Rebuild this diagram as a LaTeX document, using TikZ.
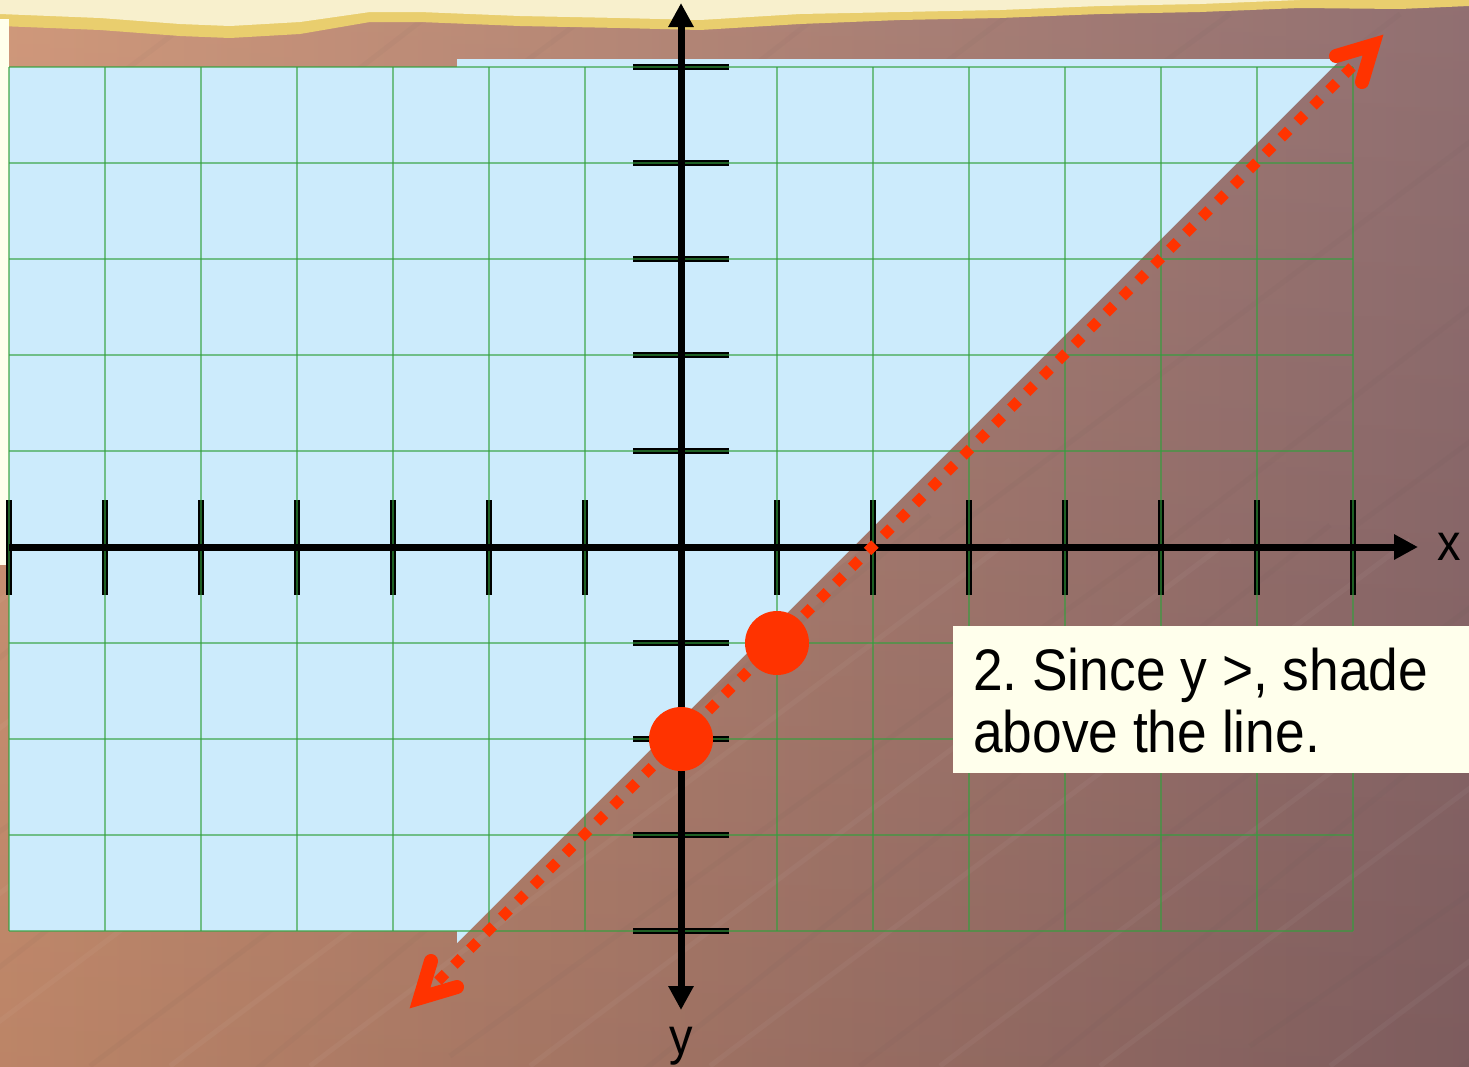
\documentclass[tikz,border=0pt]{standalone}
\usepackage{fontspec}
\setmainfont{Liberation Sans}
\usetikzlibrary{arrows.meta}
\definecolor{bgL}{RGB}{204,144,112}
\definecolor{bgR}{RGB}{136,100,102}
\definecolor{shadeblue}{RGB}{204,235,252}
\definecolor{gridgreen}{RGB}{50,160,60}
\definecolor{redline}{RGB}{255,51,0}
\definecolor{cream}{RGB}{255,255,236}
\definecolor{yellowband}{RGB}{233,206,110}
\definecolor{paleyellow}{RGB}{248,240,205}
\tikzset{
  axisline/.style={line width=7pt, black},
  tickline/.style={line width=6pt, black},
  gridline/.style={line width=1.6pt, gridgreen, opacity=0.6},
  tipA/.style={-{Triangle[length=24pt,width=24pt]}},
  dotline/.style={redline, line width=10.5pt, dash pattern=on 10.5pt off 12pt},
  chevron/.style={redline, line width=14pt, line cap=round, line join=miter},
  reddot/.style={circle, fill=redline, inner sep=0pt, minimum size=64pt},
  streak/.style={line width=5pt, opacity=0.04},
  bigtext/.style={anchor=base west, inner sep=0pt, font=\fontsize{53.3}{60}\selectfont},
}
\begin{document}
\begin{tikzpicture}[x=1pt,y=-1pt]
\useasboundingbox (0,0) rectangle (1469,1066);
% background wood
\shade[left color=bgL, right color=bgR] (0,0) rectangle (1469,1066);
\shade[top color=white, bottom color=black, opacity=0.08] (0,0) rectangle (1469,1066);
\foreach \s/\d in {0/0,170/20,390/-15,560/10,790/0,930/25,1150/-10,1330/15,1560/0,1720/20,1950/-20,2150/10,2350/0} {
  \draw[streak, black!70] (\s-700,1066+\d) -- (\s,540-\d);
  \draw[streak, white] (\s-620,1066) -- (\s+80,540);
}
\foreach \s/\d in {200/0,430/15,590/-10,820/20,1010/0,1230/-15,1400/10,1640/0,1850/15,2050/-10} {
  \draw[streak, black!70] (\s-700,540+\d) -- (\s,14);
}
% top yellow strip
\fill[yellowband] (0,0) -- (1469,0) -- (1469,6) -- (1400,9) -- (1300,8) -- (1200,12)
  -- (1100,14) -- (1000,18) -- (900,20) -- (800,24) -- (700,30) -- (620,28) -- (520,26)
  -- (420,22) -- (370,22) -- (300,34) -- (230,38) -- (180,36) -- (100,30) -- (0,26) -- cycle;
\fill[paleyellow] (0,0) -- (1300,0) -- (1200,4) -- (1100,6) -- (1000,10) -- (900,12)
  -- (800,14) -- (700,20) -- (620,18) -- (520,16) -- (420,12) -- (370,12) -- (300,22)
  -- (230,26) -- (180,24) -- (100,18) -- (0,14) -- cycle;
% cream strip at left
\fill[cream] (0,19) rectangle (9,565);
% shaded half-plane
\fill[shadeblue] (9,67) -- (457,67) -- (457,59) -- (1341,59) -- (457,943) -- (457,931)
  -- (9,931) -- cycle;
% ticks
\foreach \x in {9,105,...,585,777,873,...,1353}
  \draw[tickline] (\x,500) -- (\x,595);
\foreach \y in {67,163,...,451,643,739,835,931}
  \draw[tickline] (633,\y) -- (729,\y);
% grid
\foreach \i in {0,...,14}
  \draw[gridline] (9+96*\i,67) -- (9+96*\i,931);
\foreach \j in {0,...,9}
  \draw[gridline] (9,67+96*\j) -- (1353,67+96*\j);
% axes
\coordinate (xa0) at (9,547);
\coordinate (xa1) at (1418,547);
\coordinate (ya0) at (681,3);
\coordinate (ya1) at (681,1010);
\draw[axisline, tipA] (xa0) -- (xa1);
\draw[axisline, {Triangle[length=24pt,width=24pt]}-{Triangle[length=24pt,width=24pt]}] (ya0) -- (ya1);
\node[anchor=base west, inner sep=0pt, font=\fontsize{47}{50}\selectfont] (xlab) at (1437,560) {\scalebox{1}[1.1]{x}};
\node[anchor=base, inner sep=0pt, font=\fontsize{47}{50}\selectfont] (ylab) at (681,1054) {\scalebox{1}[1.1]{y}};
% boundary line (dotted) with open arrowheads
\coordinate (l0) at (438,981);
\coordinate (l1) at (1352,67);
\draw[dotline] (l0) -- (l1);
\coordinate (bv) at (420,998);
\coordinate (ba) at (431,961);
\coordinate (bb) at (457,987);
\coordinate (tv) at (1373,45);
\coordinate (ta) at (1336,56);
\coordinate (tb) at (1362,82);
\draw[chevron] (ba) -- (bv) -- (bb);
\draw[chevron] (ta) -- (tv) -- (tb);
% points
\node[reddot] (p1) at (681,739) {};
\node[reddot] (p2) at (777,643) {};
% text box
\node[fill=cream, minimum width=516pt, minimum height=147pt, anchor=north west, inner sep=0pt] (box) at (953,626) {};
\node[bigtext] (t1) at (973,690) {\scalebox{1}[1.1]{2.\ Since y >, shade}};
\node[bigtext] (t2) at (973,752) {\scalebox{1}[1.1]{above the line.}};
\end{tikzpicture}
\end{document}
